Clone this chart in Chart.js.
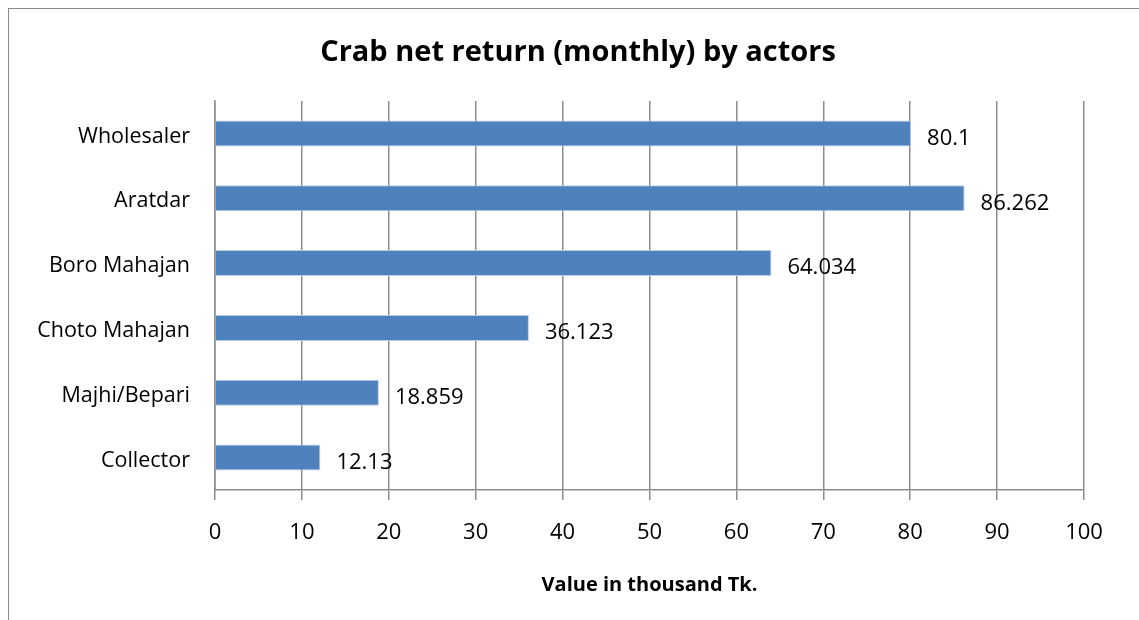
<!DOCTYPE html>
<html>
<head>
<meta charset="utf-8">
<script src="https://cdn.jsdelivr.net/npm/chart.js@4"></script>
<style>
  html, body { margin: 0; padding: 0; background: #fff; overflow: hidden; }
  #frame { position: absolute; left: 8px; top: 8px; width: 1300px; height: 800px; border: 1.5px solid #8a8a8a; }
  #wrap { position: absolute; left: 0; top: 0; width: 1139px; height: 620px; }
</style>
</head>
<body>
<div id="frame"></div>
<div id="wrap"><canvas id="crabChart" width="1139" height="620"></canvas></div>
<script>
// données (haut vers bas)
const actors = ['Wholesaler', 'Aratdar', 'Boro Mahajan', 'Choto Mahajan', 'Majhi/Bepari', 'Collector'];
const netReturn = [80.1, 86.262, 64.034, 36.123, 18.859, 12.13];
const xTicks = [0, 10, 20, 30, 40, 50, 60, 70, 80, 90, 100];
const chartTitle = 'Crab net return (monthly) by actors';

const FONT = "'Open Sans', sans-serif";

// titre centré sur toute la largeur (comme Excel)
const centeredTitle = {
    id: 'centeredTitle',
    afterDraw(chart) {
        const ctx = chart.ctx;
        ctx.save();
        ctx.font = 'bold 29px ' + FONT;
        ctx.fillStyle = '#000';
        ctx.textAlign = 'center';
        ctx.textBaseline = 'middle';
        ctx.fillText(chartTitle, 578, 53);
        ctx.restore();
    }
};

// étiquettes de valeur à droite des barres
const valueLabels = {
    id: 'valueLabels',
    afterDatasetsDraw(chart) {
        const ctx = chart.ctx;
        const meta = chart.getDatasetMeta(0);
        ctx.save();
        ctx.font = '22px ' + FONT;
        ctx.fillStyle = '#000';
        ctx.textAlign = 'left';
        ctx.textBaseline = 'middle';
        meta.data.forEach((bar, i) => {
            ctx.fillText(String(netReturn[i]), bar.x + 16, bar.y + 5);
        });
        ctx.restore();
    }
};

new Chart(document.getElementById('crabChart'), {
    type: 'bar',
    data: {
        labels: actors,
        datasets: [{
            data: netReturn,
            backgroundColor: '#4F81BD',
            borderColor: '#B9CDE5',
            borderWidth: 1,
            barPercentage: 0.4,
            categoryPercentage: 1.0
        }]
    },
    options: {
        indexAxis: 'y',
        responsive: false,
        animation: false,
        devicePixelRatio: 1,
        layout: { padding: { left: 10, right: 55, top: 101, bottom: 0 } },
        plugins: {
            legend: { display: false },
            tooltip: { enabled: false },
            title: { display: false }
        },
        scales: {
            x: {
                min: 0,
                max: 100,
                afterBuildTicks(scale) { scale.ticks = xTicks.map(v => ({ value: v })); },
                afterFit(scale) { scale.height = 130; },
                grid: { color: '#8c8c8c', lineWidth: 1.5, tickLength: 10, tickColor: '#8c8c8c' },
                border: { display: true, color: '#8c8c8c', width: 1.5 },
                ticks: { color: '#000', padding: 20, font: { family: FONT, size: 22 } },
                title: {
                    display: true,
                    text: 'Value in thousand Tk.',
                    color: '#000',
                    font: { family: FONT, size: 20, weight: 'bold' },
                    padding: { top: 0, bottom: 23 }
                }
            },
            y: {
                afterFit(scale) { scale.width = 205; },
                grid: { display: false, drawTicks: false },
                border: { display: true, color: '#8c8c8c', width: 1.5 },
                ticks: { color: '#000', padding: 25, labelOffset: 3, font: { family: FONT, size: 21.5 } }
            }
        }
    },
    plugins: [valueLabels, centeredTitle]
});
</script>
</body>
</html>
